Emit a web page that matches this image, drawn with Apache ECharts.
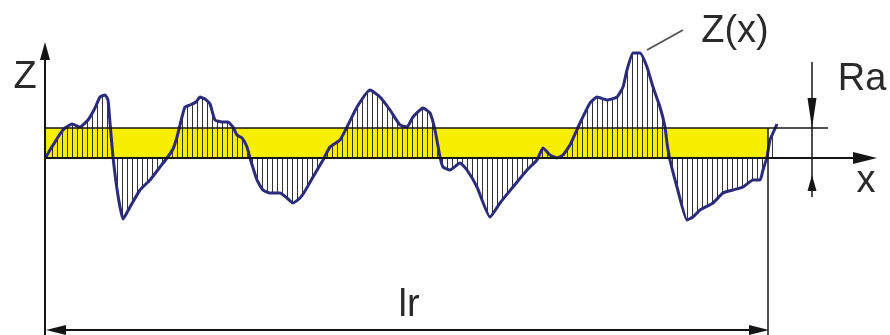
<!DOCTYPE html>
<html><head><meta charset="utf-8">
<script src="https://cdn.jsdelivr.net/npm/echarts@6/dist/echarts.min.js"></script>
<style>html,body{margin:0;padding:0;background:#fff}#c{width:890px;height:335px}</style>
</head><body><div id="c"></div>
<script>
// profile Z(x), horizontal position x and height z (pixel-like units, mean line z = 0)
const profileX = [1,5,10,15,20,27,35,43,50,55,60,63,65,68,71,75,78,85,95,105,115,122,128,132,137,140,145,151,155,160,165,170,177,183,188,192,197,202,205,212,218,225,235,242,248,255,260,268,278,285,295,302,312,325,335,345,355,362,368,378,385,390,395,398,405,415,422,432,445,455,468,482,492,498,505,512,518,525,535,545,552,562,572,578,582,588,595,602,608,615,620,622,625,632,642,648,655,668,678,688,698,708,715,718,722,725,728,732];
const profileZ = [1,8,16,24,30,34,31,38,50,61,63,58,35,1,-24,-49,-61,-49,-32,-22,-9,0,9,21,41,51,53,56,61,59,54,38,36,36,31,23,20,11,0,-22,-32,-35,-35,-40,-45,-40,-33,-19,-2,11,18,31,51,68,61,48,33,31,41,50,45,28,1,-9,-12,-5,-12,-29,-59,-45,-29,-12,-2,10,3,0,3,13,35,55,61,58,61,71,88,105,105,91,71,51,31,15,-2,-29,-62,-59,-52,-45,-35,-32,-29,-22,-22,-12,1,18,25,34];
const Ra = 30;        // mean arithmetic deviation band height
const lr = 723;       // sampling length
const labels = { z: 'Z', zx: 'Z(x)', ra: 'Ra', x: 'x', lr: 'lr' };

function hatchPattern() {
  const c = document.createElement('canvas');
  c.width = 5; c.height = 10;
  const ctx = c.getContext('2d');
  ctx.fillStyle = '#333';
  ctx.fillRect(2, 0, 1, 10);
  return c;
}

const chart = echarts.init(document.getElementById('c'), null, { renderer: 'canvas' });
const FONT = '"Liberation Sans", Arial, sans-serif';
const txt = (t, x, y, size) => ({
  type: 'text', x: x, y: y,
  style: { text: t, font: size + 'px ' + FONT, fill: '#2a2a2a', align: 'center', verticalAlign: 'middle' }
});
const dark = { color: '#151515', width: 2, type: 'solid' };
const thin = { color: '#151515', width: 1.5 };
// arrowheads are centred on the line end, so the end sits half an arrow back from the tip
const tri = (w, h) => ({ symbol: 'triangle', symbolSize: [w, h] });

chart.setOption({
  animation: false,
  grid: { left: 0, right: 0, top: 0, bottom: 0 },
  xAxis: { type: 'value', min: -45, max: 845, show: false },
  yAxis: { type: 'value', min: -177, max: 158, show: false },
  series: [
    {
      type: 'line', data: [], z: 1,
      markArea: {
        silent: true,
        itemStyle: { color: '#f8ee00' },
        data: [[{ coord: [0, 0] }, { coord: [lr, Ra] }]]
      }
    },
    {
      type: 'line', z: 2,
      data: profileX.map((x, i) => [x, profileZ[i]]),
      symbol: 'none',
      smooth: 0.15,
      lineStyle: { color: '#2c2a7a', width: 3 },
      areaStyle: { color: { image: hatchPattern(), repeat: 'repeat' }, opacity: 1 }
    },
    {
      type: 'line', data: [], z: 3,
      markLine: {
        silent: true, symbol: 'none', label: { show: false },
        lineStyle: dark,
        data: [
          // Z axis (tip at z = 116)
          [{ coord: [0, -177] }, Object.assign({ coord: [0, 107] }, tri(10, 18))],
          // x axis (mean line), tip at x = 832
          [{ coord: [0, 0] }, Object.assign({ coord: [820, 0] }, tri(12, 24))],
          // Ra line
          [{ coord: [0, Ra], lineStyle: thin }, { coord: [783, Ra] }],
          // right limit of lr
          [{ coord: [lr, Ra], lineStyle: thin }, { coord: [lr, -177] }],
          // lr dimension
          [Object.assign({ coord: [11, -172] }, tri(10, 20)), Object.assign({ coord: [lr - 9, -172] }, tri(10, 20))],
          // Ra dimension
          [{ coord: [767, 96], lineStyle: thin }, Object.assign({ coord: [767, Ra + 15] }, tri(9, 30))],
          [{ coord: [767, Ra + 15], lineStyle: thin }, { coord: [767, -24] }],
          [{ coord: [767, -39], lineStyle: thin }, Object.assign({ coord: [767, -25] }, tri(9, 16))],
          // leader to Z(x)
          [{ coord: [602, 108], lineStyle: { color: '#555', width: 2 } }, { coord: [638, 128] }]
        ]
      }
    }
  ],
  graphic: [
    txt(labels.z, 25, 78, 38),
    txt(labels.zx, 735, 32, 38),
    txt(labels.ra, 862, 80, 38),
    txt(labels.x, 866, 182, 38),
    txt(labels.lr, 409, 306, 38)
  ]
});
</script>
</body></html>
